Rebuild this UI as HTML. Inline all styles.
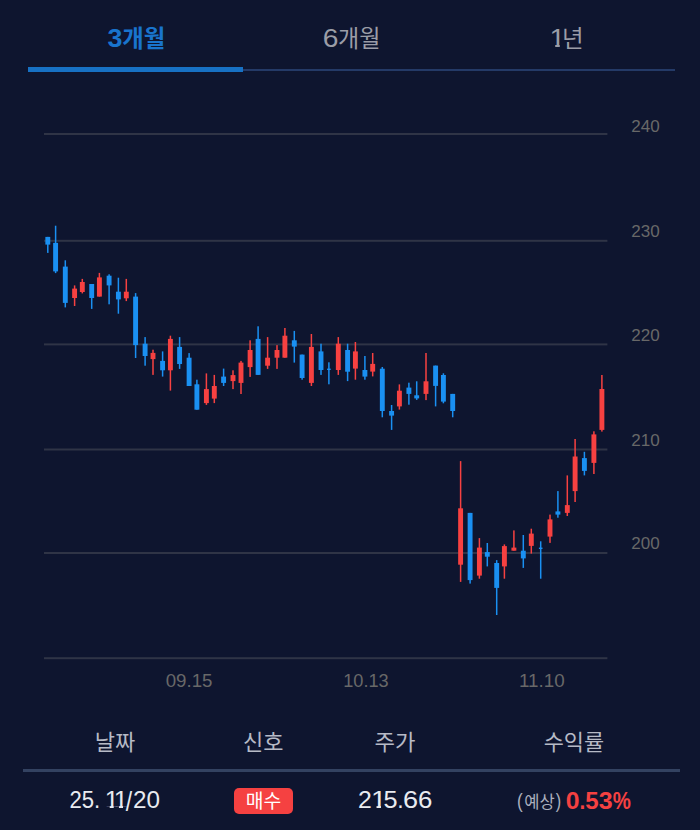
<!DOCTYPE html>
<html lang="ko">
<head>
<meta charset="utf-8">
<title>Chart</title>
<style>
*{margin:0;padding:0;box-sizing:border-box}
html,body{width:700px;height:830px;background:#0e152f;overflow:hidden}
body{position:relative;font-family:"Liberation Sans",sans-serif;color:#e6e8ee}
.abs{position:absolute;white-space:nowrap;line-height:1}
svg.layer{position:absolute;left:0;top:0;width:700px;height:830px;overflow:visible}
.tabs .line{position:absolute;left:28px;top:69px;width:647px;height:2px;background:#243a67}
.tabs .active{position:absolute;left:28px;top:67px;width:215.3px;height:5px;background:#1771c4}
.num{transform-origin:0 0}
.tick{transform-origin:0 0}
.one{clip-path:polygon(0 0,100% 0,100% 0.735em,0.36em 0.735em,0.36em 100%,0.2em 100%,0.2em 0.735em,0 0.735em)}
.divider{position:absolute;left:23.4px;top:769px;width:656.6px;height:3px;background:#334261}
  .badge{position:absolute;left:233.9px;top:787.8px;width:59.5px;height:26.5px;border-radius:5px;background:#f54141}
svg.layer text{font-family:"Liberation Sans","Noto Sans CJK KR",sans-serif}
</style>
</head>
<body>

<nav class="tabs">
  <div class="line"></div>
  <div class="active"></div>
  <span class="abs num" style="left:0;top:26.31px;font-size:25.3px;font-weight:700;color:#1974cd;transform:translateX(107.56px) scaleX(1.059)">3</span>
  <span class="abs num" style="left:0;top:26.31px;font-size:25.3px;color:#9b9da7;transform:translateX(322.69px) scaleX(1.114)">6</span>
  <span class="abs num one" style="left:0;top:26.19px;font-size:25.3px;color:#9b9da7;transform:translateX(549.58px) scaleX(1.119)">1</span>
</nav>

<section class="chart">
<svg class="layer" viewBox="0 0 700 830" role="img" aria-label="candlestick chart">
<rect x="44" y="133.0" width="563.4" height="2" fill="#2f3446"/>
<rect x="44" y="239.8" width="563.4" height="2" fill="#2f3446"/>
<rect x="44" y="343.4" width="563.4" height="2" fill="#2f3446"/>
<rect x="44" y="448.5" width="563.4" height="2" fill="#2f3446"/>
<rect x="44" y="552.0" width="563.4" height="2" fill="#2f3446"/>
<rect x="44" y="657.2" width="563.4" height="2" fill="#2f3446"/>
<g fill="#1a90f2"><rect x="47.05" y="236.9" width="1.5" height="16.0"/><rect x="45.35" y="236.9" width="4.9" height="7.7"/></g>
<g fill="#1a90f2"><rect x="54.85" y="225.7" width="1.5" height="47.4"/><rect x="53.15" y="242.9" width="4.9" height="28.5"/></g>
<g fill="#1a90f2"><rect x="64.55" y="260.3" width="1.5" height="47.1"/><rect x="62.85" y="266.6" width="4.9" height="36.3"/></g>
<g fill="#f74141"><rect x="73.85" y="285.4" width="1.5" height="20.6"/><rect x="72.15" y="288.6" width="4.9" height="9.4"/></g>
<g fill="#f74141"><rect x="81.55" y="278.9" width="1.5" height="14.5"/><rect x="79.85" y="282.0" width="4.9" height="10.0"/></g>
<g fill="#1a90f2"><rect x="90.95" y="284.0" width="1.5" height="24.9"/><rect x="89.25" y="284.0" width="4.9" height="14.0"/></g>
<g fill="#f74141"><rect x="98.65" y="272.9" width="1.5" height="23.7"/><rect x="96.95" y="277.4" width="4.9" height="19.2"/></g>
<g fill="#1a90f2"><rect x="108.35" y="274.3" width="1.5" height="30.0"/><rect x="106.65" y="275.7" width="4.9" height="9.7"/></g>
<g fill="#1a90f2"><rect x="117.65" y="277.7" width="1.5" height="36.0"/><rect x="115.95" y="291.7" width="4.9" height="7.7"/></g>
<g fill="#f74141"><rect x="125.55" y="278.9" width="1.5" height="22.2"/><rect x="123.85" y="291.7" width="4.9" height="6.6"/></g>
<g fill="#1a90f2"><rect x="134.85" y="293.1" width="1.5" height="64.9"/><rect x="133.15" y="296.6" width="4.9" height="48.5"/></g>
<g fill="#1a90f2"><rect x="144.35" y="337.1" width="1.5" height="28.6"/><rect x="142.65" y="343.7" width="4.9" height="12.3"/></g>
<g fill="#f74141"><rect x="152.25" y="349.7" width="1.5" height="25.2"/><rect x="150.55" y="352.9" width="4.9" height="6.2"/></g>
<g fill="#1a90f2"><rect x="161.85" y="351.4" width="1.5" height="25.2"/><rect x="160.15" y="360.9" width="4.9" height="9.4"/></g>
<g fill="#f74141"><rect x="169.65" y="335.7" width="1.5" height="54.9"/><rect x="167.95" y="338.9" width="4.9" height="31.4"/></g>
<g fill="#1a90f2"><rect x="178.85" y="337.1" width="1.5" height="31.8"/><rect x="177.15" y="346.9" width="4.9" height="17.1"/></g>
<g fill="#1a90f2"><rect x="188.35" y="353.1" width="1.5" height="32.9"/><rect x="186.65" y="357.7" width="4.9" height="28.3"/></g>
<g fill="#1a90f2"><rect x="196.15" y="379.7" width="1.5" height="30.0"/><rect x="194.45" y="384.3" width="4.9" height="25.4"/></g>
<g fill="#f74141"><rect x="205.65" y="373.4" width="1.5" height="31.5"/><rect x="203.95" y="389.1" width="4.9" height="14.0"/></g>
<g fill="#f74141"><rect x="213.55" y="374.9" width="1.5" height="28.2"/><rect x="211.85" y="386.0" width="4.9" height="12.6"/></g>
<g fill="#1a90f2"><rect x="222.85" y="368.6" width="1.5" height="17.4"/><rect x="221.15" y="376.6" width="4.9" height="6.3"/></g>
<g fill="#f74141"><rect x="232.25" y="370.3" width="1.5" height="18.8"/><rect x="230.55" y="375.1" width="4.9" height="6.0"/></g>
<g fill="#f74141"><rect x="240.25" y="360.9" width="1.5" height="33.1"/><rect x="238.55" y="362.6" width="4.9" height="20.3"/></g>
<g fill="#f74141"><rect x="249.35" y="340.3" width="1.5" height="36.6"/><rect x="247.65" y="350.0" width="4.9" height="17.1"/></g>
<g fill="#1a90f2"><rect x="257.35" y="326.3" width="1.5" height="48.6"/><rect x="255.65" y="338.9" width="4.9" height="36.0"/></g>
<g fill="#f74141"><rect x="266.85" y="337.1" width="1.5" height="31.8"/><rect x="265.15" y="357.7" width="4.9" height="8.0"/></g>
<g fill="#f74141"><rect x="276.25" y="345.1" width="1.5" height="23.8"/><rect x="274.55" y="350.0" width="4.9" height="7.7"/></g>
<g fill="#f74141"><rect x="284.15" y="328.0" width="1.5" height="29.7"/><rect x="282.45" y="335.7" width="4.9" height="22.0"/></g>
<g fill="#1a90f2"><rect x="293.55" y="330.9" width="1.5" height="31.7"/><rect x="291.85" y="340.3" width="4.9" height="6.3"/></g>
<g fill="#1a90f2"><rect x="301.35" y="354.6" width="1.5" height="25.1"/><rect x="299.65" y="354.6" width="4.9" height="23.4"/></g>
<g fill="#f74141"><rect x="310.65" y="334.0" width="1.5" height="52.0"/><rect x="308.95" y="346.9" width="4.9" height="36.0"/></g>
<g fill="#1a90f2"><rect x="320.25" y="343.7" width="1.5" height="31.2"/><rect x="318.55" y="351.4" width="4.9" height="18.6"/></g>
<g fill="#1a90f2"><rect x="328.15" y="362.3" width="1.5" height="22.0"/><rect x="327.10" y="368.6" width="3.6" height="1.4"/></g>
<g fill="#f74141"><rect x="337.55" y="337.1" width="1.5" height="37.8"/><rect x="335.85" y="343.7" width="4.9" height="26.3"/></g>
<g fill="#1a90f2"><rect x="346.85" y="343.7" width="1.5" height="37.4"/><rect x="345.15" y="350.0" width="4.9" height="21.7"/></g>
<g fill="#f74141"><rect x="354.65" y="342.0" width="1.5" height="37.7"/><rect x="352.95" y="351.4" width="4.9" height="17.2"/></g>
<g fill="#1a90f2"><rect x="364.15" y="356.0" width="1.5" height="23.7"/><rect x="362.45" y="370.0" width="4.9" height="6.6"/></g>
<g fill="#f74141"><rect x="371.95" y="353.0" width="1.5" height="23.4"/><rect x="370.25" y="363.9" width="4.9" height="7.7"/></g>
<g fill="#1a90f2"><rect x="381.55" y="367.0" width="1.5" height="50.3"/><rect x="379.85" y="368.7" width="4.9" height="42.3"/></g>
<g fill="#1a90f2"><rect x="390.85" y="405.0" width="1.5" height="24.9"/><rect x="389.15" y="411.0" width="4.9" height="4.6"/></g>
<g fill="#f74141"><rect x="398.65" y="384.4" width="1.5" height="25.2"/><rect x="396.95" y="390.7" width="4.9" height="15.7"/></g>
<g fill="#1a90f2"><rect x="408.15" y="382.7" width="1.5" height="22.0"/><rect x="406.45" y="387.6" width="4.9" height="6.3"/></g>
<g fill="#1a90f2"><rect x="415.95" y="381.3" width="1.5" height="18.6"/><rect x="414.25" y="395.3" width="4.9" height="3.1"/></g>
<g fill="#f74141"><rect x="425.25" y="353.0" width="1.5" height="47.1"/><rect x="423.55" y="381.3" width="4.9" height="12.6"/></g>
<g fill="#1a90f2"><rect x="434.85" y="365.6" width="1.5" height="40.8"/><rect x="433.15" y="365.6" width="4.9" height="20.3"/></g>
<g fill="#1a90f2"><rect x="442.65" y="373.3" width="1.5" height="30.0"/><rect x="440.95" y="375.0" width="4.9" height="26.6"/></g>
<g fill="#1a90f2"><rect x="451.95" y="393.9" width="1.5" height="23.4"/><rect x="450.25" y="393.9" width="4.9" height="17.1"/></g>
<g fill="#f74141"><rect x="459.85" y="461.1" width="1.5" height="120.8"/><rect x="458.15" y="508.3" width="4.9" height="56.4"/></g>
<g fill="#1a90f2"><rect x="469.35" y="512.9" width="1.5" height="70.7"/><rect x="467.65" y="512.9" width="4.9" height="67.2"/></g>
<g fill="#f74141"><rect x="478.65" y="538.1" width="1.5" height="40.6"/><rect x="476.95" y="547.6" width="4.9" height="28.0"/></g>
<g fill="#1a90f2"><rect x="486.55" y="543.0" width="1.5" height="23.4"/><rect x="484.85" y="552.1" width="4.9" height="4.6"/></g>
<g fill="#1a90f2"><rect x="495.95" y="560.1" width="1.5" height="54.9"/><rect x="494.25" y="563.0" width="4.9" height="24.9"/></g>
<g fill="#f74141"><rect x="503.65" y="544.4" width="1.5" height="34.3"/><rect x="501.95" y="546.1" width="4.9" height="20.3"/></g>
<g fill="#f74141"><rect x="513.15" y="530.4" width="1.5" height="20.3"/><rect x="511.45" y="547.6" width="4.9" height="3.1"/></g>
<g fill="#1a90f2"><rect x="522.55" y="535.0" width="1.5" height="32.9"/><rect x="520.85" y="550.7" width="4.9" height="7.7"/></g>
<g fill="#f74141"><rect x="530.55" y="528.7" width="1.5" height="24.9"/><rect x="528.85" y="533.6" width="4.9" height="12.3"/></g>
<g fill="#1a90f2"><rect x="539.95" y="541.3" width="1.5" height="37.4"/><rect x="538.90" y="547.6" width="3.6" height="1.4"/></g>
<g fill="#f74141"><rect x="549.25" y="514.6" width="1.5" height="28.3"/><rect x="547.55" y="519.4" width="4.9" height="17.2"/></g>
<g fill="#1a90f2"><rect x="557.15" y="491.1" width="1.5" height="26.6"/><rect x="555.45" y="511.4" width="4.9" height="3.2"/></g>
<g fill="#f74141"><rect x="566.55" y="475.4" width="1.5" height="40.6"/><rect x="564.85" y="505.1" width="4.9" height="7.8"/></g>
<g fill="#f74141"><rect x="574.35" y="439.0" width="1.5" height="63.0"/><rect x="572.65" y="456.5" width="4.9" height="34.6"/></g>
<g fill="#1a90f2"><rect x="583.65" y="451.8" width="1.5" height="23.6"/><rect x="581.95" y="458.1" width="4.9" height="12.8"/></g>
<g fill="#f74141"><rect x="593.15" y="431.3" width="1.5" height="42.7"/><rect x="591.45" y="434.4" width="4.9" height="28.5"/></g>
<g fill="#f74141"><rect x="601.15" y="375.0" width="1.5" height="56.6"/><rect x="599.45" y="389.0" width="4.9" height="40.9"/></g>
</svg>
  <span class="abs tick" style="left:0;top:118.81px;font-size:15.7px;color:#686868;transform:translateX(631.25px) scaleX(1.087)">240</span>
  <span class="abs tick" style="left:0;top:223.81px;font-size:15.7px;color:#686868;transform:translateX(631.25px) scaleX(1.087)">230</span>
  <span class="abs tick" style="left:0;top:327.81px;font-size:15.7px;color:#686868;transform:translateX(631.25px) scaleX(1.087)">220</span>
  <span class="abs tick" style="left:0;top:432.81px;font-size:15.7px;color:#686868;transform:translateX(631.25px) scaleX(1.087)">210</span>
  <span class="abs tick" style="left:0;top:535.81px;font-size:15.7px;color:#686868;transform:translateX(631.25px) scaleX(1.087)">200</span>
  <span class="abs tick" style="left:0;top:672.57px;font-size:17.8px;color:#686868;transform:translateX(165.65px) scaleX(1.051)">09.15</span>
  <span class="abs tick" style="left:0;top:672.57px;font-size:17.8px;color:#686868;transform:translateX(343.24px) scaleX(1.022)">10.13</span>
  <span class="abs tick" style="left:0;top:672.57px;font-size:17.8px;color:#686868;transform:translateX(518.89px) scaleX(1.06)">11.10</span>
</section>

<section class="table">
  <div class="divider"></div>
  <div class="badge"></div>
  <span class="cell date"><span class="abs num" style="left:0;top:789.02px;font-size:23.3px;color:#e9ebf0;transform:translateX(69.39px) scaleX(0.949)">25.</span><span class="abs num one" style="left:0;top:789.02px;font-size:23.3px;color:#e9ebf0;transform:translateX(104.69px) scaleX(1.074)">1</span><span class="abs num one" style="left:0;top:789.02px;font-size:23.3px;color:#e9ebf0;transform:translateX(113.85px) scaleX(1.092)">1</span><span class="abs num" style="left:0;top:788.53px;font-size:27px;color:#e9ebf0;transform:translateX(125.8px) scaleX(0.847)">/</span><span class="abs num" style="left:0;top:789.02px;font-size:23.3px;color:#e9ebf0;transform:translateX(133.09px) scaleX(1.041)">20</span></span>
  <span class="cell price"><span class="abs num" style="left:0;top:788.92px;font-size:23.3px;color:#e9ebf0;transform:translateX(358.06px) scaleX(1.064)">2</span><span class="abs num one" style="left:0;top:788.92px;font-size:23.3px;color:#e9ebf0;transform:translateX(370.92px) scaleX(1.198)">1</span><span class="abs num" style="left:0;top:788.92px;font-size:23.3px;color:#e9ebf0;transform:translateX(383.39px) scaleX(1.084)">5</span><span class="abs num" style="left:0;top:788.92px;font-size:23.3px;color:#e9ebf0;transform:translateX(397.23px) scaleX(0.987)">.</span><span class="abs num" style="left:0;top:788.92px;font-size:23.3px;color:#e9ebf0;transform:translateX(403.05px) scaleX(1.163)">6</span><span class="abs num" style="left:0;top:788.92px;font-size:23.3px;color:#e9ebf0;transform:translateX(418.01px) scaleX(1.108)">6</span></span>
  <span class="abs num" style="left:0;top:791.9px;font-size:19.7px;color:#abafbd;transform:translateX(517.08px) scaleX(0.865)">(</span>
  <span class="abs num" style="left:0;top:791.9px;font-size:19.7px;color:#abafbd;transform:translateX(555.72px) scaleX(0.827)">)</span>
  <span class="cell pct"><span class="abs num" style="left:0;top:789.72px;font-size:23.0px;font-weight:700;color:#f54141;transform:translateX(565.73px) scaleX(1.076)">0</span><span class="abs num" style="left:0;top:789.72px;font-size:23.0px;font-weight:700;color:#f54141;transform:translateX(579.56px) scaleX(0.9)">.</span><span class="abs num" style="left:0;top:789.72px;font-size:23.0px;font-weight:700;color:#f54141;transform:translateX(585.28px) scaleX(1.043)">5</span><span class="abs num" style="left:0;top:789.72px;font-size:23.0px;font-weight:700;color:#f54141;transform:translateX(598.7px) scaleX(1.087)">3</span><span class="abs num" style="left:0;top:789.72px;font-size:23.0px;font-weight:700;color:#f54141;transform:translateX(612.69px) scaleX(0.885)">%</span></span>
</section>

<svg class="layer" viewBox="0 0 700 830" aria-hidden="true">
  <text x="122.3" y="47" font-size="23.5" font-weight="700" fill="#1974cd" textLength="43" lengthAdjust="spacingAndGlyphs">개월</text>
  <text x="338" y="47" font-size="23.5" fill="#9b9da7" textLength="42.5" lengthAdjust="spacingAndGlyphs">개월</text>
  <text x="562" y="47" font-size="23.5" fill="#9b9da7">년</text>
  <text x="94.8" y="750" font-size="21.3" fill="#b6bac6" textLength="40.5" lengthAdjust="spacingAndGlyphs">날짜</text>
  <text x="243" y="750" font-size="21.3" fill="#b6bac6" textLength="40.5" lengthAdjust="spacingAndGlyphs">신호</text>
  <text x="374.5" y="750" font-size="21.3" fill="#b6bac6" textLength="41" lengthAdjust="spacingAndGlyphs">주가</text>
  <text x="543.7" y="750" font-size="21.3" fill="#b6bac6" textLength="60.5" lengthAdjust="spacingAndGlyphs">수익률</text>
  <text x="245.7" y="807.7" font-size="18.8" fill="#ffffff" textLength="35.5" lengthAdjust="spacingAndGlyphs">매수</text>
  <text x="524.2" y="808.3" font-size="17" fill="#abafbd" textLength="30.5" lengthAdjust="spacingAndGlyphs">예상</text>
</svg>
</body>
</html>
